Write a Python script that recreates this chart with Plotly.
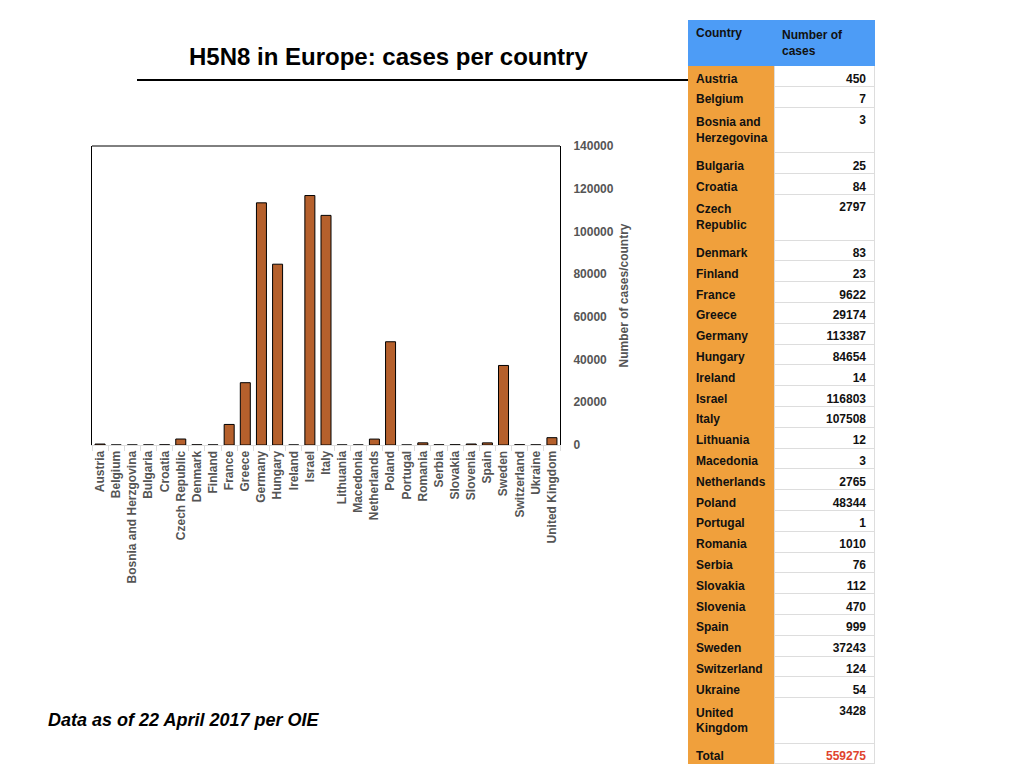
import plotly.graph_objects as go

# chart data
countries = ["Austria", "Belgium", "Bosnia and Herzgovina", "Bulgaria", "Croatia",
             "Czech Republic", "Denmark", "Finland", "France", "Greece", "Germany",
             "Hungary", "Ireland", "Israel", "Italy", "Lithuania", "Macedonia",
             "Netherlands", "Poland", "Portugal", "Romania", "Serbia", "Slovakia",
             "Slovenia", "Spain", "Sweden", "Switzerland", "Ukraine", "United Kingdom"]
cases = [450, 7, 3, 25, 84, 2797, 83, 23, 9622, 29174, 113387, 84654, 14, 116803,
         107508, 12, 3, 2765, 48344, 1, 1010, 76, 112, 470, 999, 37243, 124, 54, 3428]

# table labels (table spells some names differently / wraps them)
table_countries = ["Austria", "Belgium", "Bosnia and<br>Herzegovina", "Bulgaria", "Croatia",
                   "Czech<br>Republic", "Denmark", "Finland", "France", "Greece", "Germany",
                   "Hungary", "Ireland", "Israel", "Italy", "Lithuania", "Macedonia",
                   "Netherlands", "Poland", "Portugal", "Romania", "Serbia", "Slovakia",
                   "Slovenia", "Spain", "Sweden", "Switzerland", "Ukraine", "United<br>Kingdom"]
total_cases = 559275

y_ticks = [0, 20000, 40000, 60000, 80000, 100000, 120000, 140000]

FONT = "Liberation Sans, Arial, Helvetica, sans-serif"
BAR = "#B5602C"
ORANGE = "#F0A03C"
BLUE = "#4D9CF6"
GREY = "#555555"

W, H = 1024, 768
OX, OY = 8, 8   # page offset of the figure (body margin)


def px(x):
    return (x - OX) / W


def py(y):
    return 1 - (y - OY) / H


fig = go.Figure()

fig.add_trace(go.Bar(
    x=countries, y=cases,
    marker=dict(color=BAR, line=dict(color="black", width=1)),
    xaxis="x", yaxis="y",
))

col1 = table_countries + ["Total"]
col2 = [str(v) for v in cases] + [str(total_cases)]
n = len(col1)

fig.add_trace(go.Table(
    domain=dict(x=[px(688), px(874)], y=[0, py(20)]),
    columnwidth=[86, 100],
    header=dict(
        values=["Country", "Number of<br>cases"],
        fill_color=BLUE, line_color=BLUE,
        align="left", height=36,
        font=dict(family=FONT, size=12, weight="bold", color="#111111"),
    ),
    cells=dict(
        values=[col1, col2],
        fill_color=[[ORANGE] * n, ["white"] * n],
        line_color=[[ORANGE] * n, ["#DDDDDD"] * n],
        align=["left", "right"],
        height=20.8,
        font=dict(family=FONT, size=12, weight="bold",
                  color=[["#111111"] * n, ["#111111"] * (n - 1) + ["#E0442E"]]),
    ),
))

fig.update_layout(
    width=W, height=H,
    margin=dict(l=0, r=0, t=0, b=0, autoexpand=False),
    paper_bgcolor="white", plot_bgcolor="white",
    showlegend=False,
    bargap=0.38,
    font=dict(family=FONT, color=GREY),
    xaxis=dict(
        domain=[px(92), px(560)],
        automargin=False,
        tickangle=-90,
        tickfont=dict(size=12, color=GREY, weight="bold"),
        showline=True, linecolor="#DDDDDD", linewidth=1,
        ticks="outside", tickson="boundaries", ticklen=5, tickcolor="#DDDDDD",
        showgrid=False, fixedrange=True,
    ),
    yaxis=dict(
        domain=[py(445), py(146)],
        automargin=False,
        side="right", range=[0, 140000],
        tickvals=y_ticks, tickformat="d", ticks="", ticklabelstandoff=10,
        tickfont=dict(size=12, color=GREY, weight="bold"),
        showline=True, mirror=True, linecolor="black", linewidth=1,
        showgrid=False, zeroline=False,
        title=dict(text="Number of cases/country", standoff=6,
                   font=dict(size=12, color=GREY, weight="bold")),
    ),
)

# top edge of the plot box
fig.add_shape(type="line", xref="x domain", yref="y domain",
              x0=0, x1=1, y0=1, y1=1, line=dict(color="black", width=1))

# title and rule under it
fig.add_annotation(text="<b>H5N8 in Europe: cases per country</b>",
                   xref="paper", yref="paper", x=px(388), y=py(56), yanchor="middle",
                   showarrow=False, font=dict(size=24, color="black"))
fig.add_shape(type="line", xref="paper", yref="paper",
              x0=px(137), x1=px(688), y0=py(80), y1=py(80),
              line=dict(color="black", width=2))

fig.add_annotation(text="<b><i>Data as of 22 April 2017 per OIE</i></b>",
                   xref="paper", yref="paper", x=px(46), y=py(720),
                   xanchor="left", yanchor="middle", showarrow=False,
                   font=dict(size=18, color="black"))

fig.write_html("out.html")
